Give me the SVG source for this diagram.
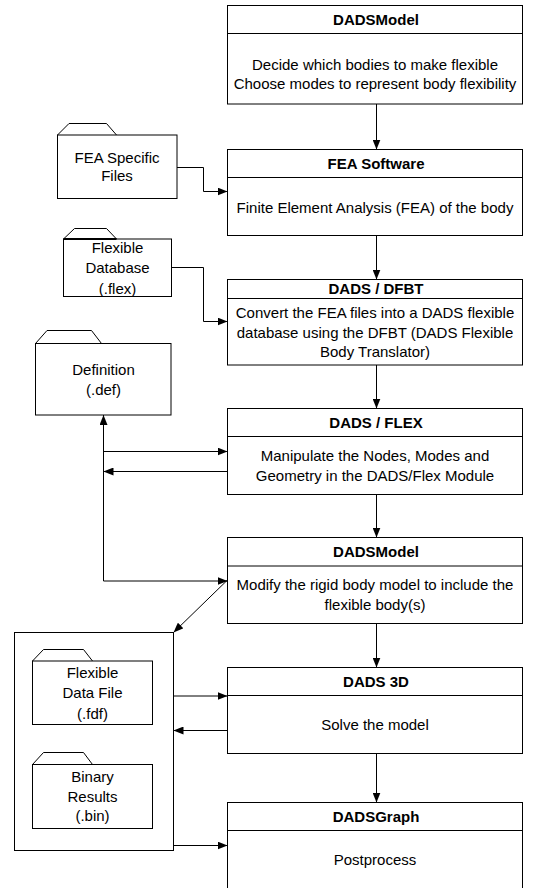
<svg xmlns="http://www.w3.org/2000/svg" width="534" height="888" viewBox="0 0 534 888">
<defs>
<style>
.box{fill:#fff;stroke:#000;stroke-width:1}
.div{stroke:#000;stroke-width:1}
.t{font-family:"Liberation Sans",Arial,sans-serif;font-size:15px;fill:#000;text-anchor:middle}
.b{font-weight:bold}
.c{fill:none;stroke:#000;stroke-width:1}
.tab{fill:#fff;stroke:#000;stroke-width:1}
</style>
<marker id="ah" viewBox="0 0 10 8" refX="10" refY="4" markerWidth="10" markerHeight="8" markerUnits="userSpaceOnUse" orient="auto">
<path d="M0,0 L10,4 L0,8 z" fill="#000"/>
</marker>
</defs>
<rect width="534" height="888" fill="#fff"/>

<g id="container">
<rect class="box" x="14.5" y="632.5" width="159" height="218"/>
</g>

<g id="n1">
<rect class="box" x="227.5" y="5.5" width="295" height="98.5"/>
<line class="div" x1="227.5" y1="33.5" x2="522.5" y2="33.5"/>
<text class="t b" x="376" y="25">DADSModel</text>
<text class="t" x="375" y="69.5">Decide which bodies to make flexible</text>
<text class="t" x="375" y="89">Choose modes to represent body flexibility</text>
</g>

<g id="n2">
<rect class="box" x="227.5" y="149.5" width="295" height="86"/>
<line class="div" x1="227.5" y1="177.5" x2="522.5" y2="177.5"/>
<text class="t b" x="376" y="168.5">FEA Software</text>
<text class="t" x="375" y="213">Finite Element Analysis (FEA) of the body</text>
</g>

<g id="n3">
<rect class="box" x="227.5" y="279.5" width="295" height="85.5"/>
<line class="div" x1="227.5" y1="298.5" x2="522.5" y2="298.5"/>
<text class="t b" x="376" y="294">DADS / DFBT</text>
<text class="t" x="375" y="318">Convert the FEA files into a DADS flexible</text>
<text class="t" x="375" y="337.5">database using the DFBT (DADS Flexible</text>
<text class="t" x="375" y="357">Body Translator)</text>
</g>

<g id="n4">
<rect class="box" x="227.5" y="408.5" width="295" height="86"/>
<line class="div" x1="227.5" y1="436.5" x2="522.5" y2="436.5"/>
<text class="t b" x="376" y="428">DADS / FLEX</text>
<text class="t" x="375" y="461">Manipulate the Nodes, Modes and</text>
<text class="t" x="375" y="481">Geometry in the DADS/Flex Module</text>
</g>

<g id="n5">
<rect class="box" x="227.5" y="537.5" width="295" height="86"/>
<line class="div" x1="227.5" y1="566" x2="522.5" y2="566"/>
<text class="t b" x="376" y="557">DADSModel</text>
<text class="t" x="375" y="590">Modify the rigid body model to include the</text>
<text class="t" x="375" y="610">flexible body(s)</text>
</g>

<g id="n6">
<rect class="box" x="227.5" y="667.5" width="295" height="86"/>
<line class="div" x1="227.5" y1="695.5" x2="522.5" y2="695.5"/>
<text class="t b" x="376" y="686.5">DADS 3D</text>
<text class="t" x="375" y="729.5">Solve the model</text>
</g>

<g id="n7">
<rect class="box" x="227.5" y="802.5" width="295" height="87"/>
<line class="div" x1="227.5" y1="830.5" x2="522.5" y2="830.5"/>
<text class="t b" x="376" y="821.5">DADSGraph</text>
<text class="t" x="375" y="864.5">Postprocess</text>
</g>

<g id="f1">
<path class="tab" d="M57.5,135 L69,123.5 L106.5,123.5 L116.5,135"/>
<rect class="box" x="57.5" y="135" width="119.5" height="63.5"/>
<text class="t" x="117" y="162.5">FEA Specific</text>
<text class="t" x="117" y="181">Files</text>
</g>

<g id="f2">
<path class="tab" d="M63.5,239 L74.5,228.5 L106.5,228.5 L116.5,239"/>
<rect class="box" x="63.5" y="239" width="108" height="57.5"/>
<line x1="63.5" y1="239" x2="116.5" y2="239" stroke="#000" stroke-width="2"/>
<text class="t" x="117.5" y="253">Flexible</text>
<text class="t" x="117.5" y="273">Database</text>
<text class="t" x="117.5" y="293.5">(.flex)</text>
</g>

<g id="f3">
<path class="tab" d="M35.5,343.5 L47,330.5 L91.5,330.5 L101.5,343.5"/>
<rect class="box" x="35.5" y="343.5" width="135.5" height="71.5"/>
<text class="t" x="103.5" y="375">Definition</text>
<text class="t" x="103.5" y="394.5">(.def)</text>
</g>

<g id="f4">
<path class="tab" d="M32.5,661 L43.5,649.5 L83.5,649.5 L92.5,661"/>
<rect class="box" x="32.5" y="661" width="120" height="63.5"/>
<text class="t" x="92.5" y="678">Flexible</text>
<text class="t" x="92.5" y="698">Data File</text>
<text class="t" x="92.5" y="718.5">(.fdf)</text>
</g>

<g id="f5">
<path class="tab" d="M32.5,764.5 L43.5,752.5 L83.5,752.5 L92.5,764.5"/>
<rect class="box" x="32.5" y="764.5" width="120" height="64"/>
<text class="t" x="92.5" y="782">Binary</text>
<text class="t" x="92.5" y="802">Results</text>
<text class="t" x="92.5" y="820.5">(.bin)</text>
</g>

<g id="connectors">
<path class="c" d="M376.5,104 V149.5" marker-end="url(#ah)"/>
<path class="c" d="M376.5,235.5 V279.5" marker-end="url(#ah)"/>
<path class="c" d="M376.5,365 V408.5" marker-end="url(#ah)"/>
<path class="c" d="M376.5,494.5 V537.5" marker-end="url(#ah)"/>
<path class="c" d="M376.5,623.5 V667.5" marker-end="url(#ah)"/>
<path class="c" d="M376.5,753.5 V802.5" marker-end="url(#ah)"/>
<path class="c" d="M177,167.5 H203.5 V191.5 H227.5" marker-end="url(#ah)"/>
<path class="c" d="M171.5,267.5 H203.5 V321.5 H227.5" marker-end="url(#ah)"/>
<path class="c" d="M103.5,581 V415" marker-end="url(#ah)"/>
<path class="c" d="M103.5,451.5 H227.5" marker-end="url(#ah)"/>
<path class="c" d="M227.5,471.5 H103.5" marker-end="url(#ah)"/>
<path class="c" d="M103.5,581 H227.5" marker-end="url(#ah)"/>
<path class="c" d="M227.5,580 L173.5,632.5" marker-end="url(#ah)"/>
<path class="c" d="M173.5,696 H227.5" marker-end="url(#ah)"/>
<path class="c" d="M227.5,730.5 H173.5" marker-end="url(#ah)"/>
<path class="c" d="M173.5,845.5 H227.5" marker-end="url(#ah)"/>
</g>
</svg>
